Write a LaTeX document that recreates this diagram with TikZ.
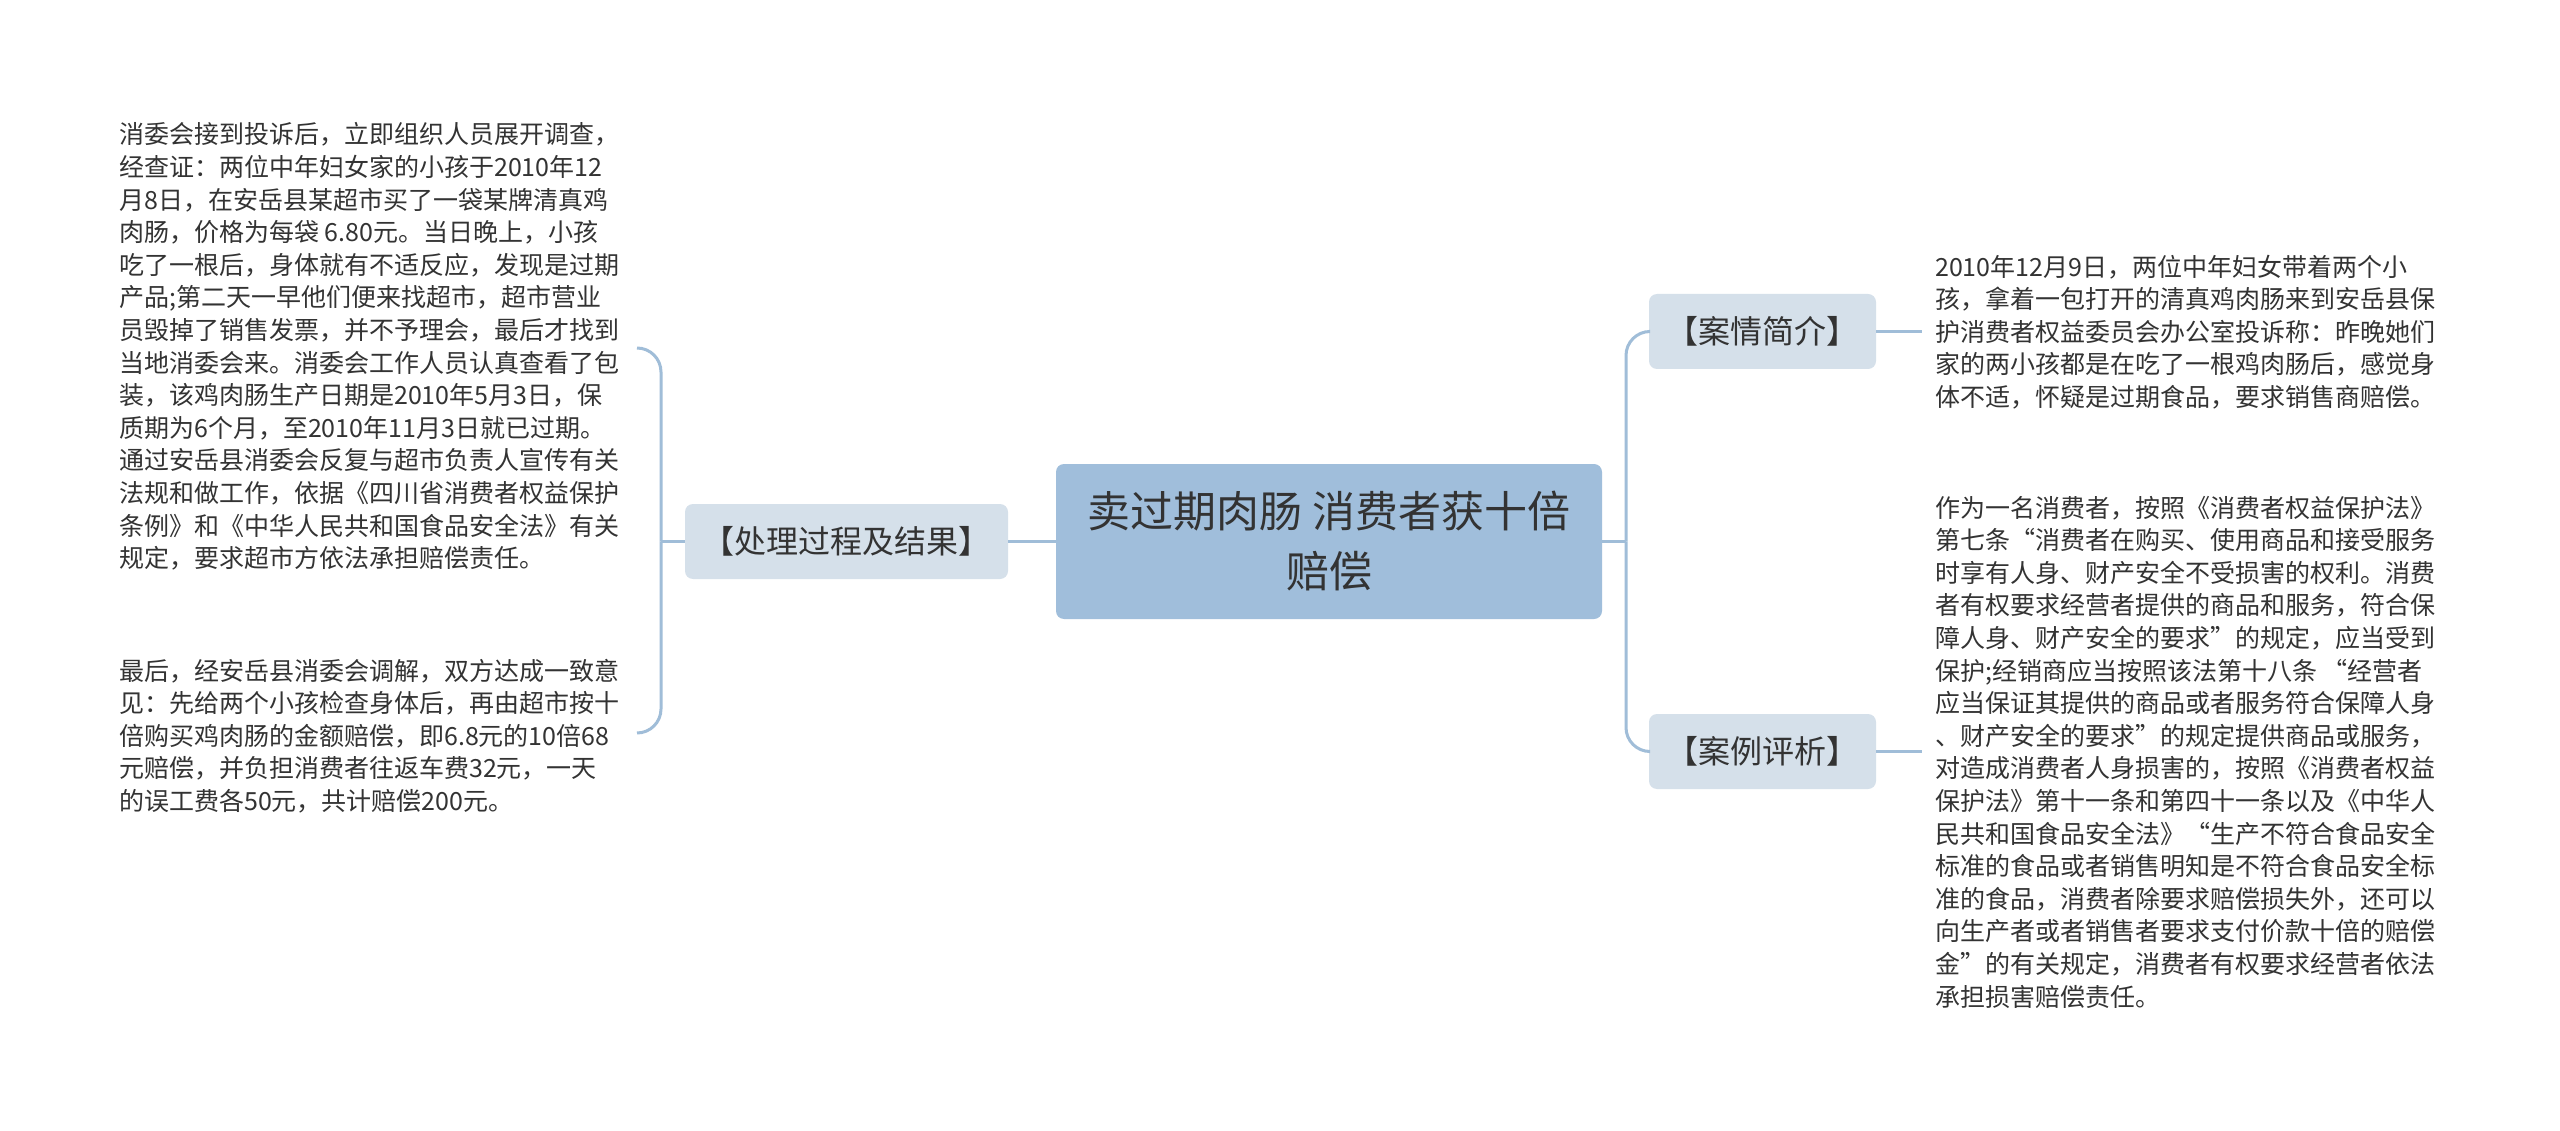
\documentclass[tikz,border=0pt]{standalone}
\usepackage{fontspec}
\setmainfont{Noto Sans CJK SC}
\definecolor{conncol}{RGB}{160,189,216}
\definecolor{centfill}{RGB}{160,190,219}
\definecolor{brfill}{RGB}{213,224,234}
\definecolor{txt}{RGB}{51,51,51}
\tikzset{
  conn/.style={draw=conncol, line width=3pt},
  cnode/.style={fill=centfill, rounded corners=8pt, minimum width=546pt, minimum height=155pt, align=center, text=txt, inner sep=0pt, font=\fontsize{43}{60}\selectfont},
  bnode/.style={fill=brfill, rounded corners=8pt, minimum height=75pt, align=center, text=txt, inner sep=0pt, font=\fontsize{32}{38}\selectfont},
  tnode/.style={align=left, text=txt, inner sep=0pt, anchor=west, font=\fontsize{25}{32.6}\selectfont}
}
\begin{document}
\begin{tikzpicture}[x=1pt,y=-1pt]
\useasboundingbox[fill=white] (0,0) rectangle (2560,1131);

\node[cnode] (c) at (1329,541.5) {卖过期肉肠 消费者获十倍\\赔偿};
\node[bnode, minimum width=323pt] (lb) at (846.5,541.5) {【处理过程及结果】};
\node[bnode, minimum width=227pt] (rb1) at (1762.5,331.5) {【案情简介】};
\node[bnode, minimum width=227pt] (rb2) at (1762.5,751.5) {【案例评析】};

\node[tnode] (lt1) at (119,346.5) {消委会接到投诉后，立即组织人员展开调查，\\
经查证：两位中年妇女家的小孩于2010年12\\
月8日，在安岳县某超市买了一袋某牌清真鸡\\
肉肠，价格为每袋 6.80元。当日晚上，小孩\\
吃了一根后，身体就有不适反应，发现是过期\\
产品;第二天一早他们便来找超市，超市营业\\
员毁掉了销售发票，并不予理会，最后才找到\\
当地消委会来。消委会工作人员认真查看了包\\
装，该鸡肉肠生产日期是2010年5月3日，保\\
质期为6个月，至2010年11月3日就已过期。\\
通过安岳县消委会反复与超市负责人宣传有关\\
法规和做工作，依据《四川省消费者权益保护\\
条例》和《中华人民共和国食品安全法》有关\\
规定，要求超市方依法承担赔偿责任。};

\node[tnode] (lt2) at (119,736) {最后，经安岳县消委会调解，双方达成一致意\\
见：先给两个小孩检查身体后，再由超市按十\\
倍购买鸡肉肠的金额赔偿，即6.8元的10倍68\\
元赔偿，并负担消费者往返车费32元，一天\\
的误工费各50元，共计赔偿200元。};

\node[tnode] (rt1) at (1935,332) {2010年12月9日，两位中年妇女带着两个小\\
孩，拿着一包打开的清真鸡肉肠来到安岳县保\\
护消费者权益委员会办公室投诉称：昨晚她们\\
家的两小孩都是在吃了一根鸡肉肠后，感觉身\\
体不适，怀疑是过期食品，要求销售商赔偿。};

\node[tnode] (rt2) at (1935,752) {作为一名消费者，按照《消费者权益保护法》\\
第七条“消费者在购买、使用商品和接受服务\\
时享有人身、财产安全不受损害的权利。消费\\
者有权要求经营者提供的商品和服务，符合保\\
障人身、财产安全的要求”的规定，应当受到\\
保护;经销商应当按照该法第十八条 “经营者\\
应当保证其提供的商品或者服务符合保障人身\\
、财产安全的要求”的规定提供商品或服务，\\
对造成消费者人身损害的，按照《消费者权益\\
保护法》第十一条和第四十一条以及《中华人\\
民共和国食品安全法》“生产不符合食品安全\\
标准的食品或者销售明知是不符合食品安全标\\
准的食品，消费者除要求赔偿损失外，还可以\\
向生产者或者销售者要求支付价款十倍的赔偿\\
金”的有关规定，消费者有权要求经营者依法\\
承担损害赔偿责任。};

\coordinate (lj) at (661,541.5);
\coordinate (lt1e) at (637,348);
\coordinate (lt2e) at (637,733);
\coordinate (rj) at (1626,541.5);
\coordinate (rt1w) at (1922,331.5);
\coordinate (rt2w) at (1922,751.5);

\draw[conn] (c.west) -- (lb.east);
\draw[conn] (lb.west) -- (lj);
\draw[conn, rounded corners=24pt] (lj) |- (lt1e);
\draw[conn, rounded corners=24pt] (lj) |- (lt2e);
\draw[conn] (c.east) -- (rj);
\draw[conn, rounded corners=24pt] (rj) |- (rb1.west);
\draw[conn, rounded corners=24pt] (rj) |- (rb2.west);
\draw[conn] (rb1.east) -- (rt1w);
\draw[conn] (rb2.east) -- (rt2w);
\end{tikzpicture}
\end{document}
